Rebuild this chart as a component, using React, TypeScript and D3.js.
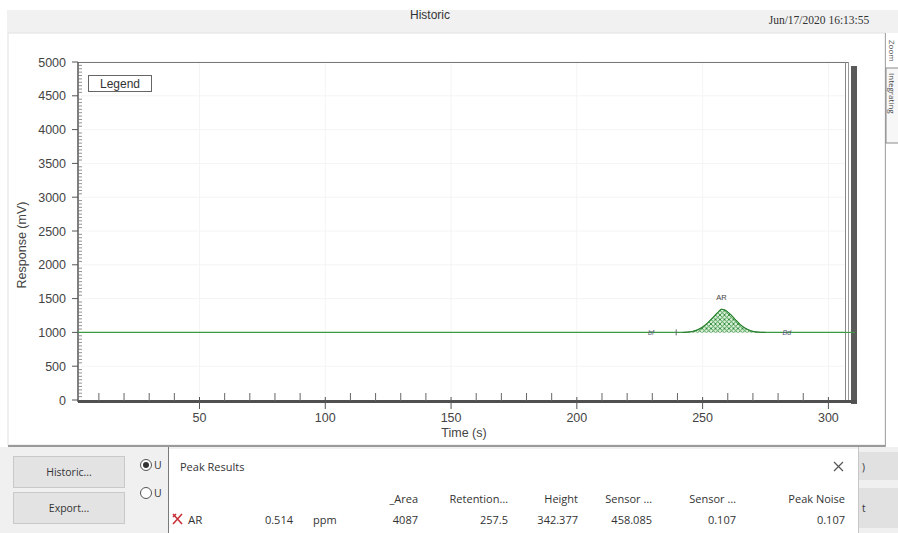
import React from 'react';
import * as d3 from 'd3';

const W = 898;
const H = 533;

// Axis ticks
const xTickValues = [50, 100, 150, 200, 250, 300];
const yTickValues = [0, 500, 1000, 1500, 2000, 2500, 3000, 3500, 4000, 4500, 5000];

// Detector trace (time in s, response in mV)
const traceTime = [1.7, 242, 244, 246, 248, 250, 252, 254, 256, 257.5, 259, 261, 263, 265, 267, 269, 271, 273, 275, 307];
const traceResponse = [1000, 1000, 1004, 1014, 1038, 1080, 1140, 1215, 1295, 1342, 1328, 1270, 1190, 1115, 1060, 1025, 1008, 1002, 1000, 1000];

// Integrated peak window and baseline level
const peakName = 'AR';
const peakStart = 243;
const peakEnd = 274;
const peakApexTime = 257.5;
const baselineLevel = 1000;

// Integration event markers on the baseline
const eventTimes = [229.5, 239.5, 283.5];
const eventLabels = ['bf', '|', 'Bd'];

// Peak results table
const resultHeaders = ['_Area', 'Retention…', 'Height', 'Sensor …', 'Sensor …', 'Peak Noise'];
const resultValues = ['4087', '257.5', '342.377', '458.085', '0.107', '0.107'];
const resultAmount = '0.514';
const resultUnit = 'ppm';

const chartFont = '"Liberation Sans", Arial, sans-serif';
const uiFont = '"Open Sans", "Noto Sans", sans-serif';

export default function App() {
  const x = d3.scaleLinear().domain([1.7, 307]).range([78, 846]);
  const y = d3.scaleLinear().domain([0, 5000]).range([400, 62]);

  const pts: [number, number][] = traceTime.map((t, i) => [t, traceResponse[i]]);
  const line = d3
    .line<[number, number]>()
    .x((d) => x(d[0]))
    .y((d) => y(d[1]))
    .curve(d3.curveMonotoneX);

  const peakPts = pts.filter((d) => d[0] >= peakStart - 1 && d[0] <= peakEnd + 1);
  const area = d3
    .area<[number, number]>()
    .x((d) => x(d[0]))
    .y0(y(baselineLevel))
    .y1((d) => y(d[1]))
    .curve(d3.curveMonotoneX);

  const apexVal = traceResponse[traceTime.indexOf(peakApexTime)];

  const xMinor = d3.range(10, 307, 10).filter((v) => v % 50 !== 0);
  const yMinor = d3.range(50, 5000, 50).filter((v) => v % 500 !== 0);

  const colRight = [418, 508, 578, 652, 736, 845];

  return (
    <svg width={W} height={H} style={{ position: 'absolute', left: 0, top: 0, background: '#fff' }}>
      <defs>
        <pattern id="xhatch" width={4.5} height={4.5} patternUnits="userSpaceOnUse">
          <rect width={4.5} height={4.5} fill="#d8f0d6" />
          <path d="M0,0 L4.5,4.5 M4.5,0 L0,4.5" stroke="#2f8a3a" strokeWidth={0.9} />
        </pattern>
      </defs>

      {/* title band */}
      <rect x={7} y={10} width={891} height={23} fill="#f1f1f1" />
      <text x={430} y={19} textAnchor="middle" fontFamily={chartFont} fontSize={12} fill="#333">
        Historic
      </text>
      <text x={819} y={24} textAnchor="middle" fontFamily='"Liberation Serif", serif' fontSize={11.5} fill="#333">
        Jun/17/2020 16:13:55
      </text>

      {/* graph panel */}
      <rect x={8} y={33} width={877} height={412} fill="#fff" stroke="#e2e2e2" />
      <line x1={8} x2={885} y1={446} y2={446} stroke="#9a9a9a" strokeWidth={2} />

      {/* right side tabs */}
      <rect x={885} y={33} width={13} height={412} fill="#fff" />
      <line x1={885.5} x2={885.5} y1={33} y2={533} stroke="#a8a8a8" />
      <text transform="translate(888.5,40) rotate(90)" fontFamily={uiFont} fontSize={8} fill="#555">
        Zoom
      </text>
      <rect x={886} y={68} width={14} height={75} fill="#f7f7f7" stroke="#8a8a8a" />
      <text transform="translate(888.5,73) rotate(90)" fontFamily={uiFont} fontSize={8} fill="#444">
        Integrating
      </text>

      {/* faint grid */}
      {xTickValues.map((v) => (
        <line key={'gx' + v} x1={x(v)} x2={x(v)} y1={63} y2={400} stroke="#f4f4f4" />
      ))}
      {yTickValues.slice(1).map((v) => (
        <line key={'gy' + v} x1={79} x2={845} y1={y(v)} y2={y(v)} stroke="#f4f4f4" />
      ))}

      {/* plot frame and shadow */}
      <rect x={851} y={66} width={6} height={338} fill="#5a5a5a" />
      <line x1={78} x2={848} y1={62.5} y2={62.5} stroke="#777" strokeWidth={1.2} />
      <line x1={845.5} x2={845.5} y1={62} y2={400} stroke="#888" />
      <line x1={848.5} x2={848.5} y1={62} y2={400} stroke="#999" />

      {/* y axis */}
      <line x1={78} x2={78} y1={62} y2={402} stroke="#555" strokeWidth={1.5} />
      {yTickValues.map((v) => (
        <g key={'yt' + v}>
          <line x1={72} x2={78} y1={y(v)} y2={y(v)} stroke="#555" />
          <text x={66} y={y(v) + 4.5} textAnchor="end" fontFamily={chartFont} fontSize={12.5} fill="#444">
            {v}
          </text>
        </g>
      ))}
      {yMinor.map((v) => (
        <line key={'ym' + v} x1={78} x2={82} y1={y(v)} y2={y(v)} stroke="#777" strokeWidth={0.8} />
      ))}
      <text transform="translate(26,245) rotate(-90)" textAnchor="middle" fontFamily={chartFont} fontSize={12.5} fill="#444">
        Response (mV)
      </text>

      {/* x axis */}
      <line x1={78} x2={857} y1={401.5} y2={401.5} stroke="#505050" strokeWidth={3} />
      {xMinor.map((v) => (
        <line key={'xm' + v} x1={x(v)} x2={x(v)} y1={393} y2={401} stroke="#666" />
      ))}
      {xTickValues.map((v) => (
        <g key={'xt' + v}>
          <line x1={x(v)} x2={x(v)} y1={397} y2={409} stroke="#555" />
          <text x={x(v)} y={422} textAnchor="middle" fontFamily={chartFont} fontSize={12.5} fill="#444">
            {v}
          </text>
        </g>
      ))}
      <text x={464} y={437} textAnchor="middle" fontFamily={chartFont} fontSize={12.5} fill="#444">
        Time (s)
      </text>

      {/* legend box */}
      <rect x={88.5} y={75.5} width={63} height={16} fill="#fff" stroke="#666" />
      <text x={120} y={88} textAnchor="middle" fontFamily={chartFont} fontSize={12} fill="#333">
        Legend
      </text>

      {/* integrated peak */}
      <path d={area(peakPts) || ''} fill="url(#xhatch)" />
      <path d={line(pts) || ''} fill="none" stroke="#3a9a3e" strokeWidth={1.1} />
      <path d={line(peakPts) || ''} fill="none" stroke="#2a7a30" strokeWidth={1} />
      <line x1={x(traceTime[traceTime.length - 1])} x2={855} y1={y(baselineLevel)} y2={y(baselineLevel)} stroke="#3a9a3e" strokeWidth={1.1} />
      <text x={x(peakApexTime)} y={y(apexVal) - 9} textAnchor="middle" fontFamily={chartFont} fontSize={7.5} fill="#444">
        {peakName}
      </text>

      {/* event markers */}
      {eventTimes.map((t, i) =>
        eventLabels[i] === '|' ? (
          <line key={'ev' + i} x1={x(t)} x2={x(t)} y1={y(baselineLevel) - 3} y2={y(baselineLevel) + 3} stroke="#667" />
        ) : (
          <text key={'ev' + i} x={x(t)} y={y(baselineLevel) + 2.5} textAnchor="middle" fontFamily={chartFont} fontSize={7} fill="#557" fontStyle="italic">
            {eventLabels[i]}
          </text>
        )
      )}

      {/* lower control strip */}
      <rect x={0} y={447} width={898} height={86} fill="#f0f0f0" />
      <rect x={13.5} y={456.5} width={111} height={31} fill="#e3e3e3" stroke="#c9c9c9" />
      <text x={69} y={476} textAnchor="middle" fontFamily={uiFont} fontSize={10.5} fill="#333">
        Historic...
      </text>
      <rect x={13.5} y={492.5} width={111} height={31} fill="#e3e3e3" stroke="#c9c9c9" />
      <text x={69} y={512} textAnchor="middle" fontFamily={uiFont} fontSize={10.5} fill="#333">
        Export...
      </text>
      <circle cx={146} cy={465} r={5.5} fill="#fff" stroke="#555" />
      <circle cx={146} cy={465} r={3} fill="#333" />
      <circle cx={146} cy={493} r={5.5} fill="#fff" stroke="#555" />
      <text x={154} y={469} fontFamily={uiFont} fontSize={10.5} fill="#333">U</text>
      <text x={154} y={497} fontFamily={uiFont} fontSize={10.5} fill="#333">U</text>

      {/* right-hand buttons partly covered */}
      <rect x={858} y={452} width={40} height={28} fill="#e1e1e1" />
      <rect x={858} y={488} width={40} height={40} fill="#e1e1e1" />
      <text x={862} y={471} fontFamily={uiFont} fontSize={10} fill="#333">)</text>
      <text x={862} y={512} fontFamily={uiFont} fontSize={10} fill="#333">t</text>

      {/* peak results window */}
      <rect x={168} y={449} width={690} height={84} fill="#fff" />
      <line x1={168.5} x2={168.5} y1={447} y2={533} stroke="#7a7a7a" />
      <line x1={858.5} x2={858.5} y1={447} y2={533} stroke="#c6c6c6" />
      <text x={180} y={471} fontFamily={uiFont} fontSize={11} fill="#333">
        Peak Results
      </text>
      <path d="M834,462 L843,471 M843,462 L834,471" stroke="#555" strokeWidth={1.2} />
      {resultHeaders.map((h, i) => (
        <text key={'h' + i} x={colRight[i]} y={503} textAnchor="end" fontFamily={uiFont} fontSize={11} fill="#333">
          {h}
        </text>
      ))}
      <path d="M173,514 L182,524 M182,514 L173,524 M173,517 L176,514" stroke="#c8323a" strokeWidth={1.6} />
      <text x={188} y={524} fontFamily={uiFont} fontSize={11.5} fill="#333">{peakName}</text>
      <text x={293} y={524} textAnchor="end" fontFamily={uiFont} fontSize={11} fill="#333">{resultAmount}</text>
      <text x={313} y={524} fontFamily={uiFont} fontSize={11} fill="#333">{resultUnit}</text>
      {resultValues.map((v, i) => (
        <text key={'v' + i} x={colRight[i]} y={524} textAnchor="end" fontFamily={uiFont} fontSize={11} fill="#333">
          {v}
        </text>
      ))}
    </svg>
  );
}
